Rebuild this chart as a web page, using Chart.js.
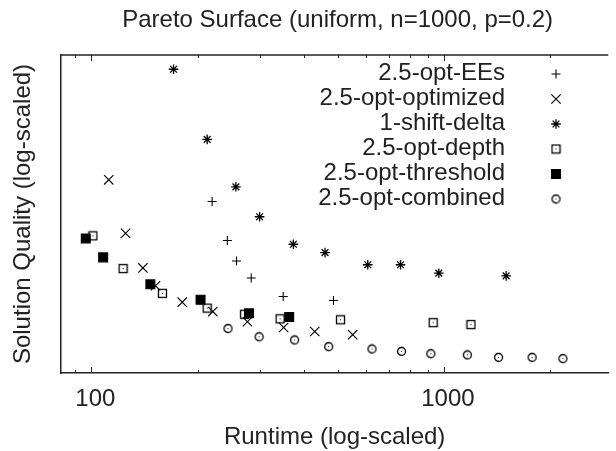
<!DOCTYPE html>
<html>
<head>
<meta charset="utf-8">
<title>Pareto Surface</title>
<script src="https://cdn.jsdelivr.net/npm/chart.js@4.4.0/dist/chart.umd.min.js"></script>
<style>
  html, body { margin: 0; padding: 0; background: #fff; }
  #wrap { position: relative; width: 616px; height: 451px; }
</style>
</head>
<body>
<div id="wrap"><canvas id="pareto"></canvas></div>
<script>
// ─── Data: runtime (x) vs solution quality (y), both log-scaled ───
const chartTitle = 'Pareto Surface (uniform, n=1000, p=0.2)';
const seriesNames = ['2.5-opt-EEs', '2.5-opt-optimized', '1-shift-delta', '2.5-opt-depth', '2.5-opt-threshold', '2.5-opt-combined'];

const eesRuntime = [220, 243, 258, 284, 350, 486];
const eesQuality = [3.46, 2.61, 2.25, 1.99, 1.74, 1.69];

const optimizedRuntime = [112, 125, 140, 152, 181, 221, 277, 351, 430, 551];
const optimizedQuality = [4.05, 2.75, 2.14, 1.88, 1.67, 1.56, 1.45, 1.39, 1.35, 1.32];

const shiftRuntime = [171, 213, 257, 300, 374, 460, 608, 753, 967, 1501];
const shiftQuality = [9.02, 5.43, 3.85, 3.10, 2.54, 2.39, 2.19, 2.19, 2.06, 2.02];

const depthRuntime = [101, 123, 159, 213, 272, 343, 509, 932, 1193];
const depthQuality = [2.70, 2.13, 1.78, 1.60, 1.53, 1.48, 1.47, 1.44, 1.42];

const thresholdRuntime = [96.4, 108, 147, 204, 280, 364];
const thresholdQuality = [2.65, 2.31, 1.90, 1.70, 1.54, 1.50];

const combinedRuntime = [244, 299, 377, 471, 625, 758, 918, 1165, 1428, 1778, 2175];
const combinedQuality = [1.38, 1.30, 1.27, 1.21, 1.19, 1.17, 1.15, 1.14, 1.12, 1.12, 1.11];

const xTicks = [100, 1000];
const xMinorTicks = [90, 200, 300, 400, 500, 600, 700, 800, 900, 2000];

const ink = '#222';
const fontFamily = '"Liberation Sans", Arial, Helvetica, sans-serif';

// ─── Marker images (square / circle with a centre dot) ───
function dotMarker(shape) {
  const c = document.createElement('canvas');
  c.width = 11; c.height = 11;
  const g = c.getContext('2d');
  g.strokeStyle = '#000';
  g.lineWidth = 1.3;
  if (shape === 'square') {
    g.strokeRect(1.5, 1.5, 8, 8);
  } else {
    g.beginPath();
    g.arc(5.5, 5.5, 4, 0, Math.PI * 2);
    g.stroke();
  }
  g.fillStyle = '#000';
  g.fillRect(5, 5, 1, 1);
  return c;
}

const zip = (xs, ys) => xs.map((x, i) => ({ x, y: ys[i] }));

function series(i, xs, ys, style) {
  return Object.assign({
    label: seriesNames[i],
    data: zip(xs, ys),
    showLine: false,
    borderColor: '#000',
    backgroundColor: 'transparent',
    borderWidth: 1.1,
    pointBorderWidth: 1.1,
    order: seriesNames.length - i   // later series drawn on top, like gnuplot
  }, style);
}

const datasets = [
  series(0, eesRuntime, eesQuality,             { pointStyle: 'cross',    pointRadius: 4.5 }),
  series(1, optimizedRuntime, optimizedQuality, { pointStyle: 'crossRot', pointRadius: 6.6 }),
  series(2, shiftRuntime, shiftQuality,         { pointStyle: 'star',     pointRadius: 4.8, pointBorderWidth: 1.3 }),
  series(3, depthRuntime, depthQuality,         { pointStyle: dotMarker('square'), pointRadius: 5 }),
  series(4, thresholdRuntime, thresholdQuality, { pointStyle: 'rect', pointRadius: 6.3, backgroundColor: '#000' }),
  series(5, combinedRuntime, combinedQuality,   { pointStyle: dotMarker('circle'), pointRadius: 5 })
];

// ─── Frame top edge, inward ticks, title and legend ───
const decorPlugin = {
  id: 'decor',
  afterDraw(chart) {
    const { ctx, chartArea: a, scales: { x } } = chart;
    ctx.save();

    ctx.strokeStyle = ink;
    ctx.lineWidth = 1.5;
    ctx.beginPath();
    ctx.moveTo(a.left, a.top);
    ctx.lineTo(a.right, a.top);
    ctx.stroke();

    ctx.lineWidth = 1;
    const mark = (v, len) => {
      const px = Math.round(x.getPixelForValue(v)) + 0.5;
      ctx.beginPath();
      ctx.moveTo(px, a.bottom); ctx.lineTo(px, a.bottom - len);
      ctx.moveTo(px, a.top);    ctx.lineTo(px, a.top + len);
      ctx.stroke();
    };
    xTicks.forEach(v => mark(v, 6));
    xMinorTicks.forEach(v => mark(v, 3));

    // title
    ctx.fillStyle = ink;
    ctx.font = '24px ' + fontFamily;
    ctx.textAlign = 'center';
    ctx.textBaseline = 'alphabetic';
    ctx.fillText(chartTitle, (a.left + a.right) / 2 + 3, 26.5);

    // legend: right-aligned text, marker to the right
    const drawPoint = Chart.helpers && Chart.helpers.drawPoint;
    chart.data.datasets.forEach((ds, i) => {
      const y = 74 + i * 25;
      ctx.fillStyle = ink;
      ctx.textAlign = 'right';
      ctx.textBaseline = 'middle';
      ctx.fillText(ds.label, 505, y - 1);
      if (drawPoint) {
        ctx.strokeStyle = ds.borderColor;
        ctx.fillStyle = ds.backgroundColor;
        ctx.lineWidth = ds.pointBorderWidth;
        drawPoint(ctx, { pointStyle: ds.pointStyle, radius: ds.pointRadius, rotation: 0, borderWidth: ds.pointBorderWidth }, 556, y);
      }
    });

    ctx.restore();
  }
};

Chart.defaults.font.family = fontFamily;
Chart.defaults.color = ink;

new Chart(document.getElementById('pareto'), {
  type: 'scatter',
  data: { datasets },
  options: {
    responsive: true,
    maintainAspectRatio: false,
    animation: false,
    events: [],
    layout: { padding: { top: 55, right: 0, bottom: 0, left: 0 } },
    plugins: {
      legend: { display: false },
      title: { display: false },
      tooltip: { enabled: false }
    },
    scales: {
      x: {
        type: 'logarithmic',
        min: 82,
        max: 2925,
        grid: { display: false, drawTicks: false },
        border: { display: true, color: ink, width: 1.5 },
        afterBuildTicks: s => { s.ticks = xTicks.map(v => ({ value: v })); },
        afterFit: s => { s.height = 78; },
        ticks: {
          autoSkip: false,
          maxRotation: 0,
          padding: 12,
          labelOffset: 4,
          font: { size: 24 },
          color: ink,
          callback: v => String(v)
        },
        title: {
          display: true,
          text: 'Runtime (log-scaled)',
          font: { size: 24, lineHeight: 1.1 },
          color: ink,
          padding: { top: 0, bottom: 0 }
        }
      },
      y: {
        type: 'logarithmic',
        min: 1,
        max: 10,
        grid: { display: false, drawTicks: false },
        border: { display: true, color: ink, width: 1.5 },
        ticks: { display: false },
        afterFit: s => { s.width = 61; },
        title: {
          display: true,
          text: 'Solution Quality (log-scaled)',
          font: { size: 24 },
          color: ink,
          padding: { top: 9, bottom: 0 }
        }
      }
    }
  },
  plugins: [decorPlugin]
});
</script>
</body>
</html>
